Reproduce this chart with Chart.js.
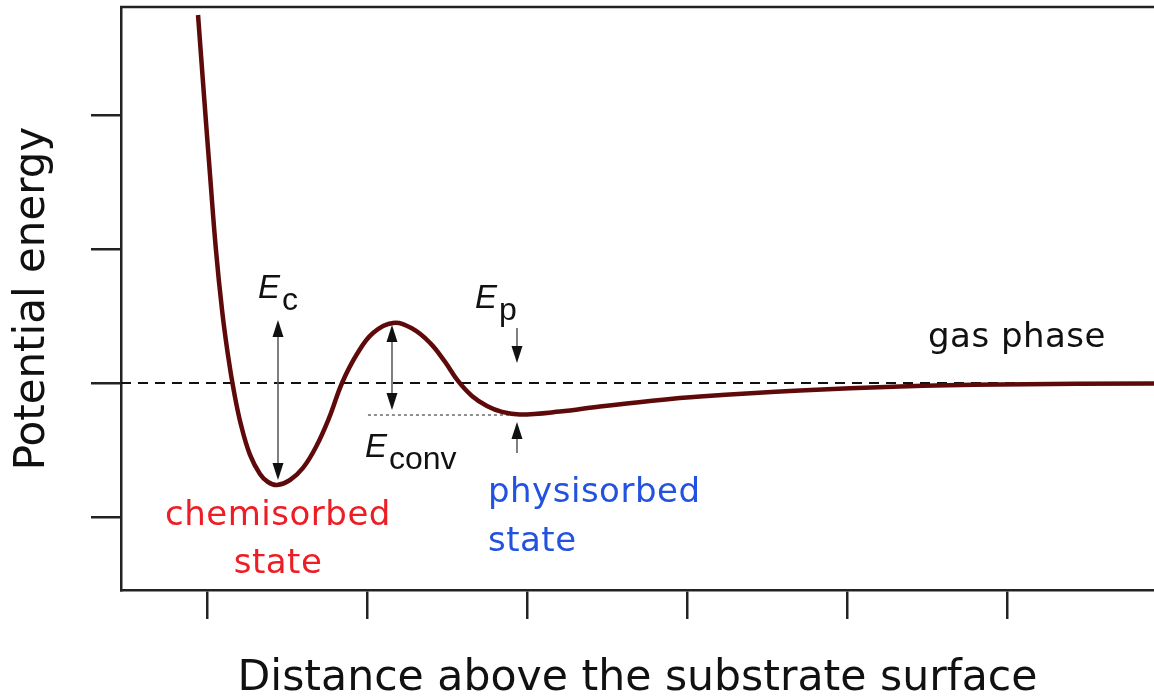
<!DOCTYPE html>
<html><head><meta charset="utf-8">
<script src="https://cdn.jsdelivr.net/npm/chart.js@4.4.1/dist/chart.umd.min.js"></script>
<style>html,body{margin:0;padding:0;background:#fff}#wrap{width:1154px;height:700px;position:relative}</style>
</head><body><div id="wrap"><canvas id="c"></canvas></div>
<script>
// ---- data ----
const curveX = [0.944, 0.981, 1.019, 1.056, 1.094, 1.131, 1.169, 1.2125, 1.269, 1.331, 1.381, 1.4375, 1.519, 1.6, 1.681, 1.763, 1.844, 1.9375, 2.0375, 2.1625, 2.2875, 2.394, 2.488, 2.569, 2.656, 2.75, 2.844, 2.956, 3.206, 3.456, 3.769, 4.081, 4.706, 5.331, 5.956, 6.919];
const curveY = [2.746, 2.149, 1.552, 0.993, 0.545, 0.209, -0.067, -0.313, -0.537, -0.679, -0.739, -0.761, -0.724, -0.634, -0.478, -0.261, 0.000, 0.216, 0.373, 0.448, 0.403, 0.299, 0.157, 0.015, -0.097, -0.172, -0.216, -0.235, -0.213, -0.175, -0.134, -0.101, -0.056, -0.026, -0.011, -0.004];
const xTicks = [1, 2, 3, 4, 5, 6];
const yTicks = [-1, 0, 1, 2];
const xRange = [0.4625, 6.919];
const yRange = [-1.545, 2.806];
const gasLevel = 0;
const physLevel = -0.239;
const physLineX = [2.006, 2.95];
// arrows: [x, from, to]
const ecArrow = [1.44375, 0.470, -0.724];
const convArrow = [2.15625, 0.433, -0.2015];
const epDownArrow = [2.9375, 0.410, 0.149];
const epUpArrow = [2.9375, -0.522, -0.291];

const curveData = curveX.map((v, i) => ({x: v, y: curveY[i]}));

function head(ctx, x, tipY, dir) {
  ctx.beginPath();
  ctx.moveTo(x, tipY);
  ctx.lineTo(x - 5.5, tipY - dir * 17);
  ctx.lineTo(x + 5.5, tipY - dir * 17);
  ctx.closePath();
  ctx.fill();
}
function arrowLine(ctx, x, y1, y2) {
  ctx.beginPath();
  ctx.moveTo(x, y1);
  ctx.lineTo(x, y2);
  ctx.stroke();
}

const annot = {
  id: 'annot',
  afterDatasetsDraw(chart) {
    const {ctx, scales: {x, y}} = chart;
    const X = v => x.getPixelForValue(v), Y = v => y.getPixelForValue(v);
    ctx.save();
    ctx.strokeStyle = '#222'; ctx.lineWidth = 2.5;
    ctx.beginPath(); ctx.moveTo(chart.chartArea.left - 1, chart.chartArea.top); ctx.lineTo(chart.chartArea.right, chart.chartArea.top); ctx.stroke();
    ctx.strokeStyle = '#555'; ctx.lineWidth = 1.5; ctx.fillStyle = '#111';
    [ecArrow, convArrow].forEach(a => {
      const px = X(a[0]), t = Y(a[1]), b = Y(a[2]);
      arrowLine(ctx, px, t + 4, b - 4);
      head(ctx, px, t, -1);
      head(ctx, px, b, 1);
    });
    [epDownArrow, epUpArrow].forEach(a => {
      const px = X(a[0]), s = Y(a[1]), e = Y(a[2]);
      const dir = e > s ? 1 : -1;
      arrowLine(ctx, px, s, e - dir * 4);
      head(ctx, px, e, dir);
    });
    ctx.fillStyle = '#111';
    ctx.textBaseline = 'alphabetic';
    ctx.textAlign = 'left';
    const eLabel = (ex, ey, sub) => {
      ctx.font = 'italic 33px "Liberation Sans"';
      const px = X(ex), py = Y(ey);
      ctx.fillText('E', px, py);
      const w = ctx.measureText('E').width;
      ctx.font = '32px "Liberation Sans"';
      ctx.fillText(sub, px + w + 2, py + 12);
    };
    eLabel(1.31875, 0.634, 'c');
    eLabel(2.675, 0.560, 'p');
    eLabel(1.9875, -0.552, 'conv');
    ctx.font = '34px "DejaVu Sans"';
    try { ctx.letterSpacing = '0.5px'; } catch (e) {}
    ctx.fillStyle = '#ee1c24';
    ctx.textAlign = 'center';
    ctx.fillText('chemisorbed', X(1.44375), Y(-1.060));
    ctx.fillText('state', X(1.44375), Y(-1.418));
    ctx.fillStyle = '#2352e0';
    ctx.textAlign = 'left';
    ctx.fillText('physisorbed', X(2.75625), Y(-0.888));
    ctx.fillText('state', X(2.75625), Y(-1.254));
    ctx.fillStyle = '#111';
    ctx.fillText('gas phase', X(5.50625), Y(0.269));
    ctx.restore();
  }
};

new Chart(document.getElementById('c'), {
  type: 'line',
  data: {
    datasets: [
      {data: curveData, borderColor: '#5e0a0a', borderWidth: 4.5, pointRadius: 0, tension: 0.4, fill: false},
      {data: [{x: xRange[0], y: gasLevel}, {x: xRange[1], y: gasLevel}], borderColor: '#111', borderWidth: 2, borderDash: [10, 7], pointRadius: 0},
      {data: [{x: physLineX[0], y: physLevel}, {x: physLineX[1], y: physLevel}], borderColor: '#222', borderWidth: 1, borderDash: [3, 3], pointRadius: 0}
    ]
  },
  options: {
    responsive: true,
    maintainAspectRatio: false,
    animation: false,
    layout: {padding: {top: 7, right: 0, left: 0, bottom: 0}},
    plugins: {legend: {display: false}, tooltip: {enabled: false}},
    scales: {
      x: {
        type: 'linear', min: xRange[0], max: xRange[1],
        afterBuildTicks: s => { s.ticks = xTicks.map(v => ({value: v})); },
        ticks: {display: false},
        grid: {drawOnChartArea: false, drawTicks: true, tickLength: 29, color: '#222', lineWidth: 2.5},
        border: {display: true, color: '#222', width: 2.5},
        title: {display: true, text: 'Distance above the substrate surface', color: '#111', font: {family: 'DejaVu Sans', size: 42.6, lineHeight: 1}, padding: {top: 38.4, bottom: 0}}
      },
      y: {
        type: 'linear', min: yRange[0], max: yRange[1],
        afterBuildTicks: s => { s.ticks = yTicks.map(v => ({value: v})); },
        ticks: {display: false},
        grid: {drawOnChartArea: false, drawTicks: true, tickLength: 30, color: '#222', lineWidth: 2.5},
        border: {display: true, color: '#222', width: 2.5},
        title: {display: true, text: 'Potential energy', color: '#111', font: {family: 'DejaVu Sans', size: 42, lineHeight: 1}, padding: {top: 12, bottom: 37}}
      }
    }
  },
  plugins: [annot]
});
</script>
</body></html>
